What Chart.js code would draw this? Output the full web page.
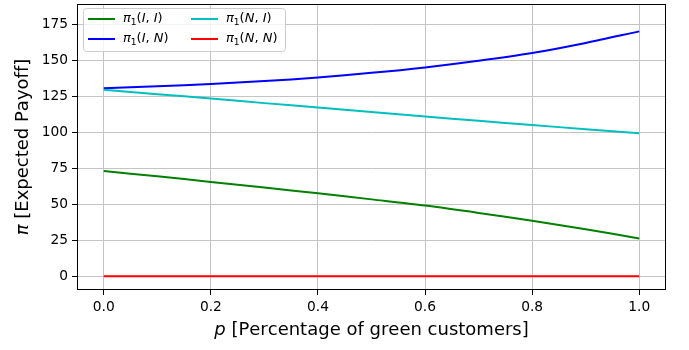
<!DOCTYPE html>
<html>
<head>
<meta charset="utf-8">
<script src="https://cdn.jsdelivr.net/npm/chart.js@4.4.0/dist/chart.umd.min.js"></script>
<style>
  html, body { margin: 0; padding: 0; background: #fff; }
  #wrap { width: 689px; height: 350px; }
</style>
</head>
<body>
<div id="wrap"><canvas id="chart" width="689" height="350"></canvas></div>
<script>
// values
var pVals = [0, 0.1, 0.2, 0.3, 0.4, 0.5, 0.6, 0.7, 0.8, 0.9, 1.0];
var piII = [73.1, 69.4, 65.5, 61.6, 57.6, 53.4, 49.1, 44.0, 38.5, 32.6, 26.3];
var piIN = [130.6, 131.9, 133.5, 135.5, 138.0, 141.2, 145.0, 149.6, 155.0, 162.0, 170.0];
var piNI = [129.5, 126.4, 123.4, 120.2, 117.1, 114.0, 110.9, 107.9, 105.0, 102.1, 99.3];
var piNN = [0, 0, 0, 0, 0, 0, 0, 0, 0, 0, 0];

var seriesLabels = ['π_1(I, I)', 'π_1(I, N)', 'π_1(N, I)', 'π_1(N, N)'];
var seriesColors = ['#008000', '#0000ff', '#00bfbf', '#ff0000'];

var xTicks = [0, 0.2, 0.4, 0.6, 0.8, 1.0];
var yTicks = [0, 25, 50, 75, 100, 125, 150, 175];
var xTitle = 'p [Percentage of green customers]';
var yTitle = 'π [Expected Payoff]';

var FONT = '"DejaVu Sans", sans-serif';

function pts(ys) {
  var out = [];
  for (var i = 0; i < pVals.length; i++) out.push({x: pVals[i], y: ys[i]});
  return out;
}

// draws text like matplotlib mathtext: letters italic (outside [ ]), _x subscript
function drawRich(ctx, str, x, y, size, align) {
  var parts = [], inBr = false;
  for (var i = 0; i < str.length; i++) {
    var ch = str[i];
    if (ch === '[') inBr = true;
    if (ch === ']') inBr = false;
    if (ch === '_') { parts.push({t: str[i + 1], sub: true}); i++; continue; }
    parts.push({t: ch, it: !inBr && /[A-Za-zπ]/.test(ch)});
  }
  var total = 0;
  parts.forEach(function (p) {
    var s = p.sub ? size * 0.7 : size;
    p.font = (p.it ? 'italic ' : '') + s + 'px ' + FONT;
    ctx.font = p.font;
    p.w = ctx.measureText(p.t).width;
    total += p.w;
  });
  var cx = align === 'center' ? x - total / 2 : x;
  ctx.textAlign = 'left';
  ctx.textBaseline = 'middle';
  parts.forEach(function (p) {
    ctx.font = p.font;
    ctx.fillText(p.t, cx, p.sub ? y + size * 0.25 : y);
    cx += p.w;
  });
}

var extrasPlugin = {
  id: 'extras',
  afterDraw: function (chart) {
    var ctx = chart.ctx, a = chart.chartArea;
    ctx.save();
    // frame
    ctx.strokeStyle = '#000';
    ctx.lineWidth = 1;
    ctx.strokeRect(Math.round(a.left) + 0.5, Math.round(a.top) + 0.5,
      Math.round(a.right - a.left) - 1, Math.round(a.bottom - a.top) - 1);

    // axis titles
    ctx.fillStyle = '#000';
    drawRich(ctx, xTitle, (a.left + a.right) / 2, 330, 18, 'center');
    ctx.save();
    ctx.translate(23, (a.top + a.bottom) / 2);
    ctx.rotate(-Math.PI / 2);
    drawRich(ctx, yTitle, 0, 0, 18, 'center');
    ctx.restore();

    // legend, two columns filled column by column
    var lx = 83, ly = 8, lw = 202, lh = 43;
    ctx.beginPath();
    if (ctx.roundRect) ctx.roundRect(lx + 0.5, ly + 0.5, lw, lh, 3); else ctx.rect(lx + 0.5, ly + 0.5, lw, lh);
    ctx.fillStyle = 'rgba(255,255,255,0.8)';
    ctx.fill();
    ctx.strokeStyle = '#cccccc';
    ctx.stroke();
    chart.data.datasets.forEach(function (ds, i) {
      var col = Math.floor(i / 2), row = i % 2;
      var x0 = 88 + col * 103, y0 = 19 + row * 20;
      ctx.strokeStyle = ds.borderColor;
      ctx.lineWidth = 2;
      ctx.beginPath();
      ctx.moveTo(x0, y0);
      ctx.lineTo(x0 + 27, y0);
      ctx.stroke();
      ctx.fillStyle = '#000';
      drawRich(ctx, ds.label, x0 + 35, y0, 13, 'left');
    });
    ctx.restore();
  }
};

var datasets = [piII, piIN, piNI, piNN].map(function (ys, i) {
  return {
    label: seriesLabels[i],
    data: pts(ys),
    borderColor: seriesColors[i],
    backgroundColor: seriesColors[i],
    borderWidth: 2,
    pointRadius: 0,
    tension: 0.3,
    order: 4 - i
  };
});

var ctx = document.getElementById('chart').getContext('2d');
var chart = new Chart(ctx, {
  type: 'line',
  data: { datasets: datasets },
  options: {
    responsive: false,
    animation: false,
    layout: { autoPadding: false, padding: { top: 4, right: 23, left: 0, bottom: 0 } },
    plugins: { legend: { display: false }, tooltip: { enabled: false } },
    scales: {
      x: {
        type: 'linear',
        min: -0.05,
        max: 1.05,
        afterBuildTicks: function (s) { s.ticks = xTicks.map(function (v) { return {value: v}; }); },
        afterFit: function (s) { s.height = 60; s.paddingLeft = 0; s.paddingRight = 0; },
        ticks: {
          color: '#000',
          font: { family: FONT, size: 13.8 },
          padding: 4,
          maxRotation: 0,
          callback: function (v) { return Number(v).toFixed(1); }
        },
        grid: { color: '#c4c4c4', tickColor: '#000', tickLength: 5, lineWidth: 1 },
        border: { display: false }
      },
      y: {
        min: -9.5,
        max: 189,
        afterBuildTicks: function (s) { s.ticks = yTicks.map(function (v) { return {value: v}; }); },
        afterFit: function (s) { s.width = 77; s.paddingTop = 0; s.paddingBottom = 0; },
        ticks: {
          color: '#000',
          font: { family: FONT, size: 13.8 },
          padding: 4,
          callback: function (v) { return String(v); }
        },
        grid: { color: '#c4c4c4', tickColor: '#000', tickLength: 5, lineWidth: 1 },
        border: { display: false }
      }
    }
  },
  plugins: [extrasPlugin]
});
</script>
</body>
</html>
